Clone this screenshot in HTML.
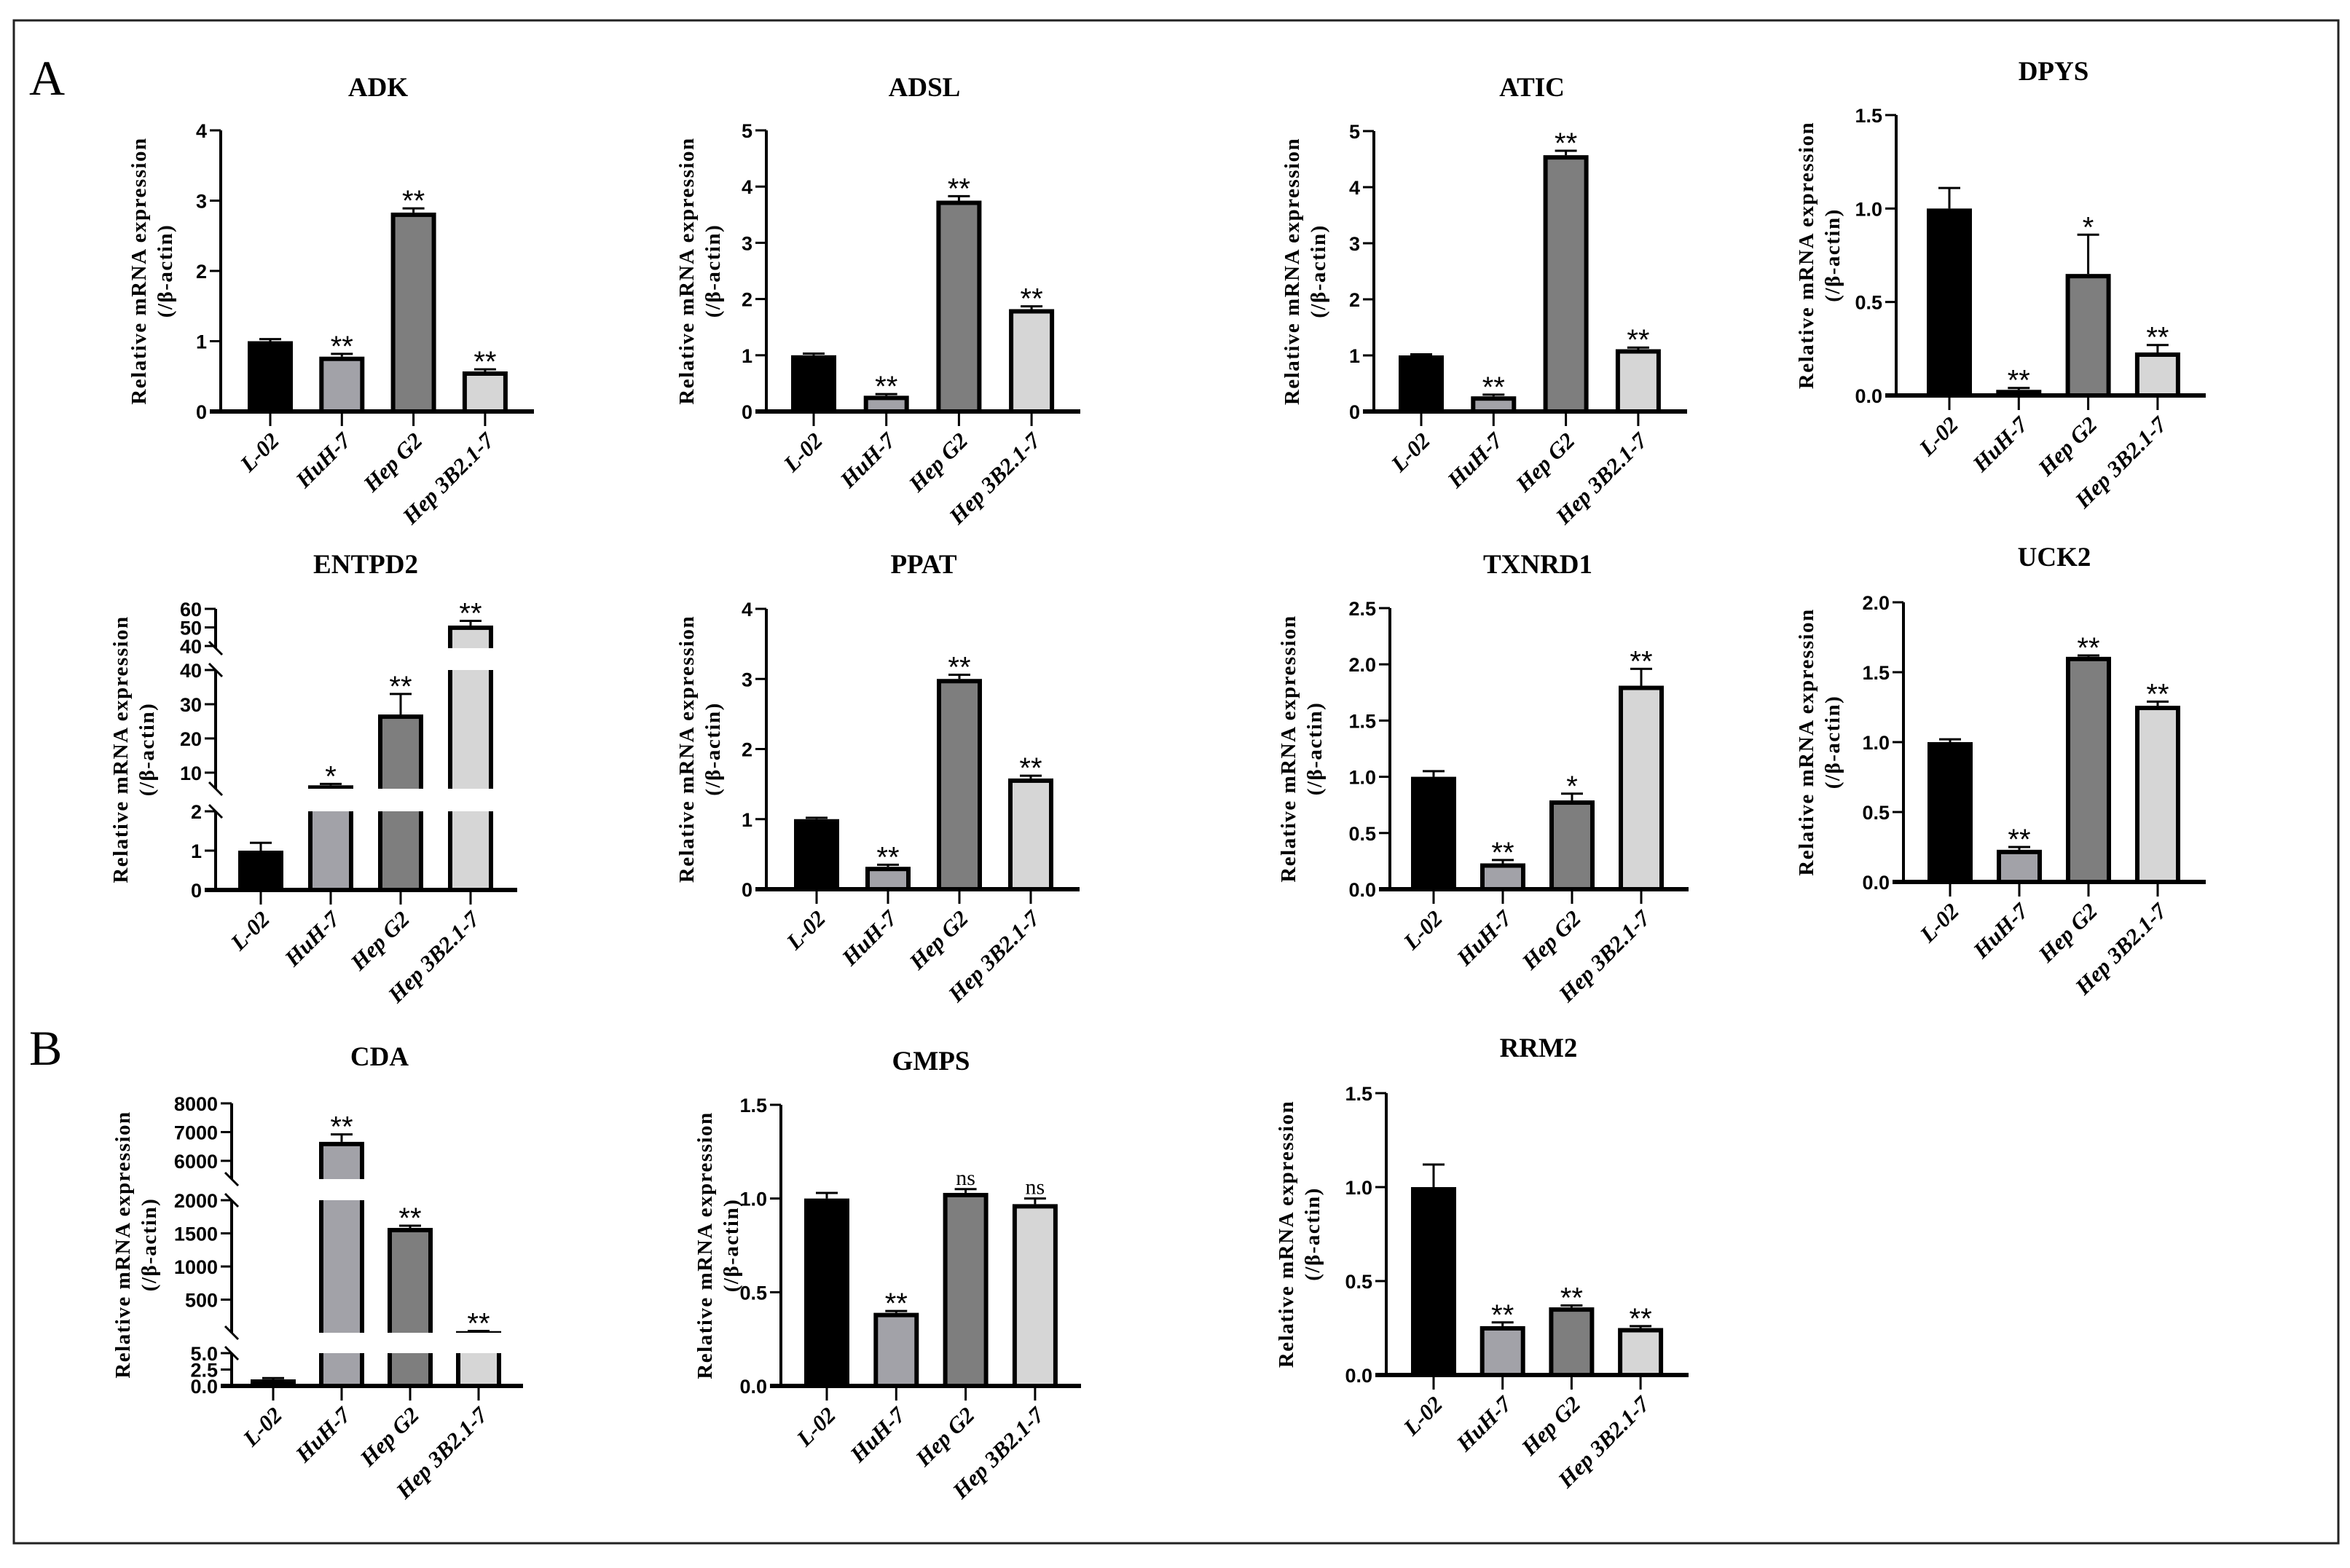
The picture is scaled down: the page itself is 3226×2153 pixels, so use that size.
<!DOCTYPE html>
<html><head><meta charset="utf-8">
<style>
html,body{margin:0;padding:0;background:#fff;}
svg{display:block;}
.tick{font-family:"Liberation Sans",Arial,sans-serif;font-weight:bold;font-size:27px;}
.ttl{font-family:"Liberation Serif","Times New Roman",serif;font-weight:bold;font-size:37px;}
.yt{font-family:"Liberation Serif","Times New Roman",serif;font-weight:bold;font-size:29px;letter-spacing:1.5px;}
.cat{font-family:"Liberation Serif","Times New Roman",serif;font-weight:bold;font-style:italic;font-size:31px;}
.sig{font-family:"Liberation Sans",Arial,sans-serif;font-size:40px;}
.lab{font-family:"Liberation Serif","Times New Roman",serif;font-size:68px;}
</style></head>
<body>
<svg id="fig" width="3226" height="2153" viewBox="0 0 3226 2153" xmlns="http://www.w3.org/2000/svg">
<rect x="19" y="28" width="3191" height="2091" fill="#fff" stroke="#222" stroke-width="3"/>
<text class="lab" x="40" y="130">A</text>
<text class="lab" x="40" y="1462">B</text>
</svg>
<script>
const categories = ["L-02","HuH-7","Hep G2","Hep 3B2.1-7"];

const adkValues = [1.0,0.78,2.83,0.57];
const adkErrors = [0.03,0.04,0.06,0.03];
const adkSig = ["","**","**","**"];
const adkTicks = [0,1,2,3,4];
const adkTickLabels = ["0","1","2","3","4"];

const adslValues = [1.0,0.28,3.75,1.82];
const adslErrors = [0.03,0.03,0.08,0.05];
const adslSig = ["","**","**","**"];
const adslTicks = [0,1,2,3,4,5];
const adslTickLabels = ["0","1","2","3","4","5"];

const aticValues = [1.0,0.27,4.57,1.11];
const aticErrors = [0.02,0.03,0.08,0.03];
const aticSig = ["","**","**","**"];
const aticTicks = [0,1,2,3,4,5];
const aticTickLabels = ["0","1","2","3","4","5"];

const dpysValues = [1.0,0.03,0.65,0.23];
const dpysErrors = [0.11,0.01,0.21,0.04];
const dpysSig = ["","**","*","**"];
const dpysTicks = [0,0.5,1.0,1.5];
const dpysTickLabels = ["0.0","0.5","1.0","1.5"];

const entpd2Values = [1.0,6.3,27,51];
const entpd2Errors = [0.2,0.4,6,2.5];
const entpd2Sig = ["","*","**","**"];
const entpd2Ticks = [0,1,2,10,20,30,40,40.01,50,60];
const entpd2TickLabels = ["0","1","2","10","20","30","40","40","50","60"];

const ppatValues = [1.0,0.32,3.0,1.58];
const ppatErrors = [0.02,0.03,0.06,0.04];
const ppatSig = ["","**","**","**"];
const ppatTicks = [0,1,2,3,4];
const ppatTickLabels = ["0","1","2","3","4"];

const txnrd1Values = [1.0,0.23,0.79,1.81];
const txnrd1Errors = [0.05,0.03,0.06,0.15];
const txnrd1Sig = ["","**","*","**"];
const txnrd1Ticks = [0,0.5,1.0,1.5,2.0,2.5];
const txnrd1TickLabels = ["0.0","0.5","1.0","1.5","2.0","2.5"];

const uck2Values = [1.0,0.23,1.61,1.26];
const uck2Errors = [0.02,0.02,0.01,0.03];
const uck2Sig = ["","**","**","**"];
const uck2Ticks = [0,0.5,1.0,1.5,2.0];
const uck2TickLabels = ["0.0","0.5","1.0","1.5","2.0"];

const cdaValues = [1.0,6660,1582,25];
const cdaErrors = [0.2,260,33,3];
const cdaSig = ["","**","**","**"];
const cdaTicks = [0,2.5,5,500,1000,1500,2000,6000,7000,8000];
const cdaTickLabels = ["0.0","2.5","5.0","500","1000","1500","2000","6000","7000","8000"];

const gmpsValues = [1.0,0.39,1.03,0.97];
const gmpsErrors = [0.03,0.01,0.02,0.03];
const gmpsSig = ["","**","ns","ns"];
const gmpsTicks = [0,0.5,1.0,1.5];
const gmpsTickLabels = ["0.0","0.5","1.0","1.5"];

const rrm2Values = [1.0,0.26,0.36,0.25];
const rrm2Errors = [0.12,0.02,0.01,0.01];
const rrm2Sig = ["","**","**","**"];
const rrm2Ticks = [0,0.5,1.0,1.5];
const rrm2TickLabels = ["0.0","0.5","1.0","1.5"];

const barFills = ["#000000","#a2a2a8","#7e7e7e","#d6d6d6"];
const NS = "http://www.w3.org/2000/svg";
const svg = document.getElementById("fig");

function mk(tag, parent){ const e=document.createElementNS(NS,tag); parent.appendChild(e); return e; }
function linearScale(lo,hi,y0,y1){ return v => y0 + (v-lo)/(hi-lo)*(y1-y0); }
function segScale(segs){ return v => { let s=segs[segs.length-1]; for(const g of segs){ if(v<=g.hi){ s=g; break; } } return s.y0+(v-s.lo)/(s.hi-s.lo)*(s.y1-s.y0); }; }

const panels = [
 {name:"adk",title:"ADK",values:adkValues,errors:adkErrors,sig:adkSig,ticks:adkTicks,labels:adkTickLabels,ax:303,top:179,bottom:565,max:4,c0:371,sp:98.3,end:733,tx:519,ty:132,yo:113},
 {name:"adsl",title:"ADSL",values:adslValues,errors:adslErrors,sig:adslSig,ticks:adslTicks,labels:adslTickLabels,ax:1052,top:179,bottom:565,max:5,c0:1117,sp:99.7,end:1483,tx:1269,ty:132,yo:110},
 {name:"atic",title:"ATIC",values:aticValues,errors:aticErrors,sig:aticSig,ticks:aticTicks,labels:aticTickLabels,ax:1886,top:180,bottom:565,max:5,c0:1951,sp:99.3,end:2316,tx:2103,ty:132,yo:113},
 {name:"dpys",title:"DPYS",values:dpysValues,errors:dpysErrors,sig:dpysSig,ticks:dpysTicks,labels:dpysTickLabels,ax:2603,top:158,bottom:543,max:1.5,c0:2676,sp:95.3,end:3028,tx:2819,ty:110,yo:124},
 {name:"entpd2",title:"ENTPD2",values:entpd2Values,errors:entpd2Errors,sig:entpd2Sig,ticks:entpd2Ticks,labels:entpd2TickLabels,ax:296,bottom:1222,c0:358,sp:96,end:710,tx:502,ty:787,yo:131,
   segs:[{lo:0,hi:2,y0:1222,y1:1114},{lo:5.3,hi:40,y0:1083,y1:920},{lo:38.8,hi:60,y0:890,y1:836}]},
 {name:"ppat",title:"PPAT",values:ppatValues,errors:ppatErrors,sig:ppatSig,ticks:ppatTicks,labels:ppatTickLabels,ax:1052,top:836,bottom:1221,max:4,c0:1121,sp:98,end:1482,tx:1268,ty:787,yo:110},
 {name:"txnrd1",title:"TXNRD1",values:txnrd1Values,errors:txnrd1Errors,sig:txnrd1Sig,ticks:txnrd1Ticks,labels:txnrd1TickLabels,ax:1908,top:835,bottom:1221,max:2.5,c0:1968,sp:95,end:2318,tx:2111,ty:787,yo:140},
 {name:"uck2",title:"UCK2",values:uck2Values,errors:uck2Errors,sig:uck2Sig,ticks:uck2Ticks,labels:uck2TickLabels,ax:2613,top:827,bottom:1211,max:2.0,c0:2677,sp:95,end:3028,tx:2820,ty:777,yo:134},
 {name:"cda",title:"CDA",values:cdaValues,errors:cdaErrors,sig:cdaSig,ticks:cdaTicks,labels:cdaTickLabels,ax:318,bottom:1903,c0:375,sp:94,end:718,tx:521,ty:1463,yo:150,
   segs:[{lo:0,hi:5,y0:1903,y1:1858},{lo:0,hi:2000,y0:1830,y1:1648},{lo:5364,hi:8000,y0:1619,y1:1515}]},
 {name:"gmps",title:"GMPS",values:gmpsValues,errors:gmpsErrors,sig:gmpsSig,ticks:gmpsTicks,labels:gmpsTickLabels,ax:1072,top:1517,bottom:1903,max:1.5,c0:1135,sp:95.3,end:1484,tx:1278,ty:1469,yo:105},
 {name:"rrm2",title:"RRM2",values:rrm2Values,errors:rrm2Errors,sig:rrm2Sig,ticks:rrm2Ticks,labels:rrm2TickLabels,ax:1903,top:1501,bottom:1888,max:1.5,c0:1968,sp:94.7,end:2318,tx:2112,ty:1451,yo:138}
];

function tickY(p,i){
  if(p.name==="entpd2" && i===7) return 887;
  return p.y(p.ticks[i]);
}

panels.forEach(p => {
  p.y = p.segs ? segScale(p.segs) : linearScale(0,p.max,p.bottom,p.top);
  const g = mk("g", svg);
  
  

  const t = mk("text", g);
  
  
  t.setAttribute("class","ttl"); t.setAttribute("x",p.tx); t.setAttribute("y",p.ty); t.setAttribute("text-anchor","middle");
  t.textContent = p.title;

  const yTop = p.segs ? p.segs[p.segs.length-1].y1 : p.top;
  const mid = (yTop + p.bottom)/2;
  const yt1 = mk("text", g);
  
  
  yt1.setAttribute("class","yt"); yt1.setAttribute("text-anchor","middle");
  yt1.setAttribute("transform",`translate(${p.ax-p.yo+10},${mid}) rotate(-90)`);
  yt1.textContent = "Relative mRNA expression";
  const yt2 = mk("text", g);
  
  
  yt2.setAttribute("class","yt"); yt2.setAttribute("text-anchor","middle");
  yt2.setAttribute("transform",`translate(${p.ax-p.yo+46},${mid}) rotate(-90)`);
  yt2.textContent = "(/β-actin)";

  p.values.forEach((v,i) => {
    const cx = p.c0 + i*p.sp;
    const yv = p.y(v);
    const ye = p.y(v + p.errors[i]);
    const el = mk("line", g);
    
    
    el.setAttribute("x1",cx); el.setAttribute("x2",cx); el.setAttribute("y1",yv); el.setAttribute("y2",ye);
    el.setAttribute("stroke","#000"); el.setAttribute("stroke-width","3");
    const cap = mk("line", g);
    
    
    cap.setAttribute("x1",cx-15); cap.setAttribute("x2",cx+15); cap.setAttribute("y1",ye); cap.setAttribute("y2",ye);
    cap.setAttribute("stroke","#000"); cap.setAttribute("stroke-width","3");
    const r = mk("rect", g);
    
    
    r.setAttribute("x",cx-28); r.setAttribute("width",56);
    r.setAttribute("y",yv+3); r.setAttribute("height",Math.max(0,p.bottom-yv-3));
    r.setAttribute("fill",barFills[i]); r.setAttribute("stroke","#000"); r.setAttribute("stroke-width","6");
    if(p.sig[i]){
      const s = mk("text", g);
      
      
      s.setAttribute("class","sig"); s.setAttribute("x",cx); s.setAttribute("text-anchor","middle");
      if(p.sig[i]==="ns"){ s.setAttribute("y",ye-6); s.setAttribute("style","font-family:'Liberation Serif',serif;font-size:30px;"); }
      else { s.setAttribute("y",ye+3); }
      s.textContent = p.sig[i];
    }
  });

  if(p.segs){
    for(let k=0;k<p.segs.length-1;k++){
      const a=p.segs[k], b=p.segs[k+1];
      const w = mk("rect", g);
      
      
      w.setAttribute("x",p.ax+4); w.setAttribute("width",p.end-p.ax); w.setAttribute("y",b.y0); w.setAttribute("height",a.y1-b.y0);
      w.setAttribute("fill","#fff");
    }
  }

  const segsDraw = p.segs ? p.segs : [{y0:p.bottom,y1:p.top}];
  segsDraw.forEach((s,k) => {
    const ya = mk("line", g);
    
    
    ya.setAttribute("x1",p.ax); ya.setAttribute("x2",p.ax); ya.setAttribute("y1",s.y0); ya.setAttribute("y2",s.y1);
    ya.setAttribute("stroke","#000"); ya.setAttribute("stroke-width","4");
    if(p.segs){
      const ends=[]; if(k>0) ends.push(s.y0); if(k<segsDraw.length-1) ends.push(s.y1);
      ends.forEach(ey => {
        const bm = mk("line", g);
        
        
        bm.setAttribute("x1",p.ax-9); bm.setAttribute("x2",p.ax+9); bm.setAttribute("y1",ey-9); bm.setAttribute("y2",ey+9);
        bm.setAttribute("stroke","#000"); bm.setAttribute("stroke-width","3");
      });
    }
  });
  p.ticks.forEach((tv,i) => {
    const ty = tickY(p,i);
    const tk = mk("line", g);
    
    
    tk.setAttribute("x1",p.ax-15); tk.setAttribute("x2",p.ax); tk.setAttribute("y1",ty); tk.setAttribute("y2",ty);
    tk.setAttribute("stroke","#000"); tk.setAttribute("stroke-width","3");
    const tl = mk("text", g);
    
    
    tl.setAttribute("class","tick"); tl.setAttribute("x",p.ax-19); tl.setAttribute("y",ty+10); tl.setAttribute("text-anchor","end");
    tl.textContent = p.labels[i];
  });

  const xa = mk("line", g);
  
  
  xa.setAttribute("x1",p.ax-15); xa.setAttribute("x2",p.end); xa.setAttribute("y1",p.bottom); xa.setAttribute("y2",p.bottom);
  xa.setAttribute("stroke","#000"); xa.setAttribute("stroke-width","6");
  categories.forEach((c,i) => {
    const cx = p.c0 + i*p.sp;
    const tk = mk("line", g);
    
    
    tk.setAttribute("x1",cx); tk.setAttribute("x2",cx); tk.setAttribute("y1",p.bottom); tk.setAttribute("y2",p.bottom+20);
    tk.setAttribute("stroke","#000"); tk.setAttribute("stroke-width","3");
    const cl = mk("text", g);
    
    
    cl.setAttribute("class","cat"); cl.setAttribute("text-anchor","end");
    cl.setAttribute("transform",`translate(${cx+14},${p.bottom+42}) rotate(-45)`);
    cl.textContent = c;
  });
});
</script>
</body></html>
